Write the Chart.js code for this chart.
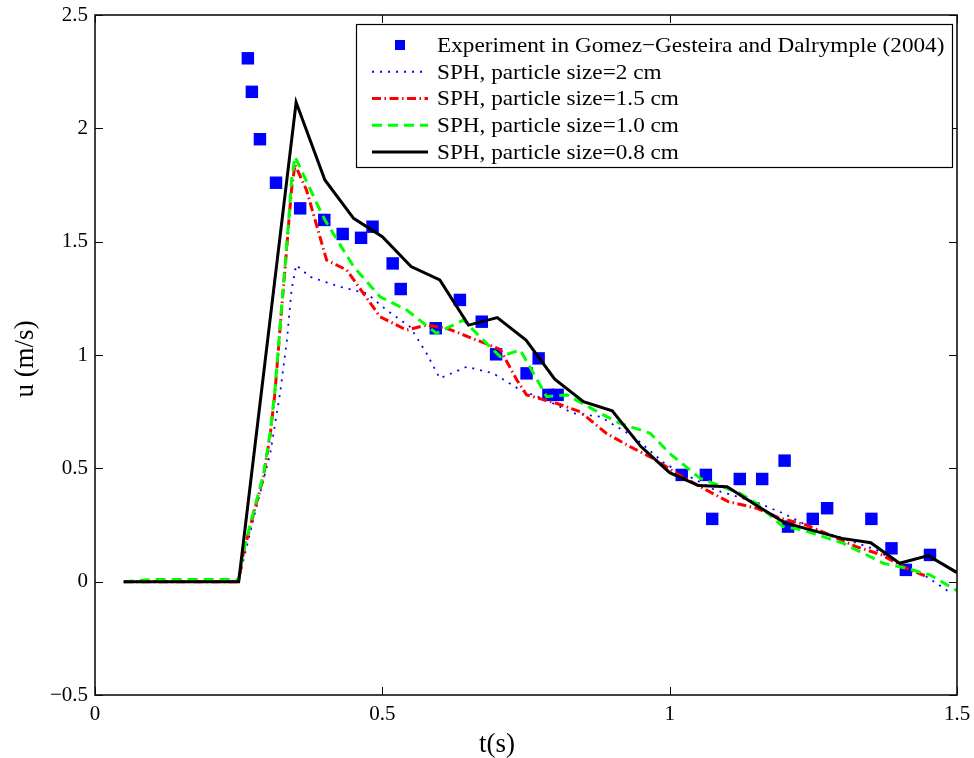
<!DOCTYPE html>
<html><head><meta charset="utf-8">
<script src="https://cdn.jsdelivr.net/npm/chart.js@4/dist/chart.umd.min.js"></script>
<style>html,body{margin:0;padding:0;background:#fff;}canvas{display:block;}</style>
</head><body>
<canvas id="c" width="974" height="758"></canvas>
<script>
// ---- data ----
const expT = [0.266,0.273,0.287,0.315,0.357,0.399,0.431,0.463,0.483,0.518,0.532,0.593,0.635,0.673,0.698,0.751,0.772,0.789,0.805,1.021,1.063,1.074,1.122,1.161,1.200,1.206,1.249,1.274,1.351,1.386,1.411,1.453];
const expU = [2.309,2.161,1.952,1.760,1.647,1.596,1.534,1.517,1.566,1.404,1.291,1.118,1.243,1.147,1.003,0.919,0.985,0.824,0.824,0.471,0.471,0.277,0.453,0.453,0.534,0.243,0.277,0.324,0.277,0.147,0.052,0.118];

const sph2T = [0.05,0.25,0.257,0.281,0.305,0.322,0.334,0.342,0.350,0.374,0.426,0.473,0.507,0.548,0.577,0.600,0.647,0.693,0.740,0.786,0.832,0.879,0.937,0.992,1.079,1.151,1.197,1.255,1.302,1.360,1.407,1.447,1.490];
const sph2U = [0,0,0.08,0.331,0.566,0.831,1.066,1.287,1.397,1.345,1.301,1.272,1.199,1.125,1.007,0.897,0.948,0.919,0.846,0.801,0.743,0.728,0.640,0.520,0.404,0.350,0.302,0.228,0.191,0.140,0.066,0.022,-0.051];

const sph15T = [0.05,0.25,0.258,0.276,0.293,0.305,0.313,0.319,0.325,0.331,0.337,0.342,0.348,0.368,0.403,0.438,0.467,0.496,0.542,0.577,0.612,0.664,0.705,0.734,0.751,0.803,0.844,0.890,0.931,0.971,1.012,1.058,1.102,1.151,1.192,1.238,1.285,1.325,1.369,1.412,1.450];
const sph15U = [0,0,0.125,0.30,0.46,0.65,0.83,1.02,1.21,1.39,1.58,1.73,1.84,1.728,1.419,1.375,1.272,1.169,1.110,1.132,1.118,1.066,1.025,0.890,0.824,0.787,0.750,0.654,0.596,0.544,0.478,0.412,0.353,0.324,0.280,0.250,0.199,0.154,0.118,0.059,0.020];

const sph10T = [0.05,0.10,0.15,0.20,0.25,0.258,0.276,0.293,0.305,0.313,0.319,0.325,0.331,0.337,0.342,0.348,0.386,0.400,0.450,0.496,0.542,0.594,0.641,0.687,0.705,0.740,0.786,0.821,0.879,0.913,0.966,1.000,1.053,1.122,1.151,1.197,1.232,1.302,1.372,1.412,1.453,1.500];
const sph10U = [0,0.01,0.01,0.01,0.01,0.13,0.31,0.47,0.66,0.84,1.03,1.22,1.40,1.59,1.77,1.875,1.669,1.596,1.390,1.257,1.199,1.096,1.154,1.037,0.993,1.022,0.816,0.824,0.743,0.699,0.655,0.566,0.456,0.390,0.346,0.243,0.228,0.169,0.081,0.059,0.030,-0.040];

const sph08T = [0.05,0.25,0.35,0.40,0.45,0.50,0.55,0.60,0.65,0.70,0.75,0.80,0.85,0.90,0.95,1.00,1.05,1.10,1.15,1.20,1.25,1.30,1.35,1.40,1.45,1.50];
const sph08U = [0,0,2.115,1.772,1.603,1.522,1.390,1.331,1.132,1.165,1.066,0.893,0.794,0.754,0.596,0.481,0.424,0.419,0.338,0.260,0.225,0.191,0.172,0.081,0.115,0.040];

const xTicks = [0,0.5,1,1.5];
const yTicks = [-0.5,0,0.5,1,1.5,2,2.5];
const seriesLabels = [
  'Experiment in Gomez\u2212Gesteira and Dalrymple (2004)',
  'SPH, particle size=2 cm',
  'SPH, particle size=1.5 cm',
  'SPH, particle size=1.0 cm',
  'SPH, particle size=0.8 cm'
];
const xTitle = 't(s)';
const yTitle = 'u (m/s)';

// ---- chart ----
const FONT = "'Liberation Serif','Times New Roman',serif";
function pts(t,u){return t.map((v,i)=>({x:v,y:u[i]}));}
function fmt(v){ if (v<0) return '\u2212'+String(Math.abs(v)); return String(v); }

const datasets = [
  {label:seriesLabels[0], data:pts(expT,expU), showLine:false, pointStyle:'rect', pointRadius:8.8, pointHoverRadius:8.8,
   backgroundColor:'#0000ff', borderColor:'#0000ff', borderWidth:0, order:5},
  {label:seriesLabels[1], data:pts(sph2T,sph2U), showLine:true, borderColor:'#0000ff', borderWidth:1.8, borderDash:[2,6],
   pointRadius:0, fill:false, order:4},
  {label:seriesLabels[2], data:pts(sph15T,sph15U), showLine:true, borderColor:'#ff0000', borderWidth:3, borderDash:[9,3.5,1.5,3.5],
   pointRadius:0, fill:false, order:3},
  {label:seriesLabels[3], data:pts(sph10T,sph10U), showLine:true, borderColor:'#00ff00', borderWidth:3, borderDash:[10,6],
   pointRadius:0, fill:false, order:2},
  {label:seriesLabels[4], data:pts(sph08T,sph08U), showLine:true, borderColor:'#000000', borderWidth:3,
   pointRadius:0, fill:false, order:1}
];

const framePlugin = {
  id:'frame',
  beforeDraw(chart){
    const c = chart.ctx; c.save(); c.fillStyle='#fff'; c.fillRect(0,0,chart.width,chart.height); c.restore();
  },
  afterDraw(chart){
    const {ctx, chartArea:{left,right,top,bottom}, scales:{x,y}} = chart;
    ctx.save();
    // inward ticks on all four sides
    ctx.strokeStyle='#000'; ctx.lineWidth=1;
    const TL=8;
    ctx.beginPath();
    xTicks.forEach(v=>{const p=Math.round(x.getPixelForValue(v))+0.5;
      ctx.moveTo(p,bottom); ctx.lineTo(p,bottom-TL); ctx.moveTo(p,top); ctx.lineTo(p,top+TL);});
    yTicks.forEach(v=>{const p=Math.round(y.getPixelForValue(v))+0.5;
      ctx.moveTo(left,p); ctx.lineTo(left+TL,p); ctx.moveTo(right,p); ctx.lineTo(right-TL,p);});
    ctx.stroke();
    // box
    ctx.lineWidth=1.6; ctx.strokeStyle='#111';
    ctx.strokeRect(left,top,right-left,bottom-top);

    // legend
    const L={x:356,y:24,w:596,h:143};
    ctx.fillStyle='#fff'; ctx.fillRect(L.x,L.y,L.w,L.h);
    ctx.lineWidth=1.2; ctx.strokeStyle='#000'; ctx.strokeRect(L.x+0.5,L.y+0.5,L.w,L.h);
    const rowY=i=>45+i*26.75;
    chart.data.datasets.forEach((ds,i)=>{
      const yy=rowY(i);
      if (ds.showLine===false){
        ctx.fillStyle=ds.backgroundColor; ctx.fillRect(395,yy-5,10,10);
      } else {
        ctx.save(); ctx.beginPath(); ctx.strokeStyle=ds.borderColor; ctx.lineWidth=ds.borderWidth;
        ctx.setLineDash(ds.borderDash||[]); ctx.moveTo(372,yy); ctx.lineTo(428,yy); ctx.stroke(); ctx.restore();
      }
      ctx.save(); ctx.fillStyle='#000'; ctx.font='22px '+FONT; ctx.textAlign='left'; ctx.textBaseline='middle';
      ctx.translate(437,yy+1); ctx.scale(1.055,1); ctx.fillText(ds.label,0,0); ctx.restore();
    });

    // axis titles
    ctx.fillStyle='#000'; ctx.font='27px '+FONT; ctx.textAlign='center'; ctx.textBaseline='middle';
    ctx.fillText(xTitle,497,745);
    ctx.save(); ctx.translate(26,359); ctx.rotate(-Math.PI/2); ctx.fillText(yTitle,0,0); ctx.restore();
    ctx.restore();
  }
};

new Chart(document.getElementById('c'), {
  type:'scatter',
  data:{datasets},
  options:{
    responsive:false, animation:false, devicePixelRatio:1,
    layout:{padding:{top:15,right:17,left:0,bottom:0}},
    plugins:{legend:{display:false}, tooltip:{enabled:false}},
    scales:{
      x:{type:'linear', min:0, max:1.5,
         afterBuildTicks:s=>{s.ticks=xTicks.map(v=>({value:v}));},
         afterFit:s=>{s.height=63; s.paddingLeft=0; s.paddingRight=0;},
         grid:{display:false, drawTicks:false}, border:{display:false},
         ticks:{font:{family:FONT,size:21}, color:'#000', padding:7, maxRotation:0, autoSkip:false, callback:fmt}},
      y:{type:'linear', min:-0.5, max:2.5,
         afterBuildTicks:s=>{s.ticks=yTicks.map(v=>({value:v}));},
         afterFit:s=>{s.width=95; s.paddingTop=0; s.paddingBottom=0;},
         grid:{display:false, drawTicks:false}, border:{display:false},
         ticks:{font:{family:FONT,size:21}, color:'#000', padding:7, autoSkip:false, callback:fmt}}
    }
  },
  plugins:[framePlugin]
});
</script>
</body></html>
